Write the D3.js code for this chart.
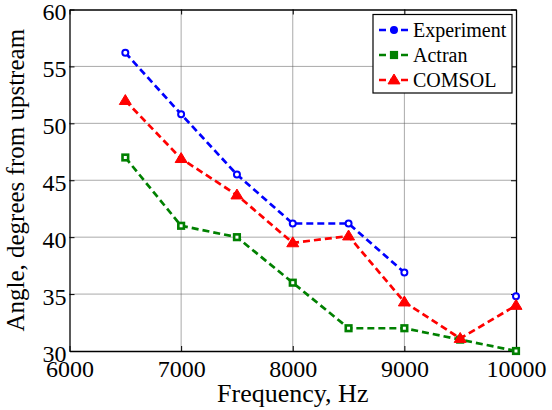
<!DOCTYPE html>
<html>
<head>
<meta charset="utf-8">
<script src="https://cdn.jsdelivr.net/npm/d3@7"></script>
<style>
  html, body { margin: 0; padding: 0; background: #fff; }
  svg { display: block; }
  text { font-family: "Liberation Serif", "Times New Roman", serif; fill: #000; }
</style>
</head>
<body>
<svg id="chart" width="552" height="410"></svg>
<script>
// Frequencies (Hz) at which the angle was evaluated
const frequencies = [6500, 7000, 7500, 8000, 8500, 9000, 9500, 10000];
// Angle from upstream, degrees (null = no measurement)
const experiment = [56.2, 50.8, 45.5, 41.2, 41.2, 36.9, null, 34.8];
const actran     = [47.0, 41.0, 40.0, 36.0, 32.0, 32.0, 31.0, 30.0];
const comsol     = [52.0, 46.9, 43.7, 39.5, 40.1, 34.3, 31.1, 34.0];

const xTicks = [6000, 7000, 8000, 9000, 10000];
const yTicks = [30, 35, 40, 45, 50, 55, 60];

const series = [
  { name: "Experiment", values: experiment, color: "#0000ff", marker: "circle" },
  { name: "Actran",     values: actran,     color: "#008000", marker: "square" },
  { name: "COMSOL",     values: comsol,     color: "#ff0000", marker: "triangle" }
];

const svg = d3.select("#chart");
const m = { left: 69.5, right: 516, top: 9.5, bottom: 351 };

const x = d3.scaleLinear().domain([6000, 10000]).range([m.left, m.right]);
const y = d3.scaleLinear().domain([30, 60]).range([m.bottom, m.top]);

// Dotted grid
const grid = svg.append("g");
grid.selectAll(".gx").data(xTicks.slice(1, -1)).join("line")
  .attr("x1", d => x(d)).attr("x2", d => x(d))
  .attr("y1", m.top).attr("y2", m.bottom)
  .attr("stroke", "#555").attr("stroke-width", 1).attr("stroke-dasharray", "1,1");
grid.selectAll(".gy").data(yTicks.slice(1, -1)).join("line")
  .attr("y1", d => y(d)).attr("y2", d => y(d))
  .attr("x1", m.left).attr("x2", m.right)
  .attr("stroke", "#555").attr("stroke-width", 1).attr("stroke-dasharray", "1,1");

// Axes with inward ticks on all four sides
const tickLen = 5;
const axFont = 24;
const xb = d3.axisBottom(x).tickValues(xTicks).tickSizeInner(-tickLen).tickSizeOuter(0).tickPadding(9).tickFormat(d3.format("d"));
const xt = d3.axisTop(x).tickValues(xTicks).tickSizeInner(-tickLen).tickSizeOuter(0).tickFormat("");
const yl = d3.axisLeft(y).tickValues(yTicks).tickSizeInner(-tickLen).tickSizeOuter(0).tickPadding(3).tickFormat(d3.format("d"));
const yr = d3.axisRight(y).tickValues(yTicks).tickSizeInner(-tickLen).tickSizeOuter(0).tickFormat("");

function styleAxis(g) {
  g.attr("font-family", null);
  g.select(".domain").attr("stroke", "#000").attr("stroke-width", 1.3);
  g.selectAll(".tick line").attr("stroke", "#000");
  g.selectAll("text").attr("font-size", axFont);
}
svg.append("g").attr("transform", `translate(0,${m.bottom})`).call(xb).call(styleAxis)
  .selectAll("text").attr("dy", "0.71em");
svg.append("g").attr("transform", `translate(0,${m.top})`).call(xt).call(styleAxis);
svg.append("g").attr("transform", `translate(${m.left},0)`).call(yl).call(styleAxis)
  .selectAll("text").attr("dy", "0.42em");
svg.append("g").attr("transform", `translate(${m.right},0)`).call(yr).call(styleAxis);

// Axis titles
svg.append("text").attr("x", (m.left + m.right) / 2).attr("y", 401.5)
  .attr("text-anchor", "middle").attr("font-size", 26).text("Frequency, Hz");
svg.append("text").attr("transform", `translate(24,${(m.top + m.bottom) / 2}) rotate(-90)`)
  .attr("text-anchor", "middle").attr("font-size", 25).text("Angle, degrees from upstream");

// Marker drawing
function drawMarker(g, type, color, cx, cy, filled) {
  if (type === "circle") {
    g.append("circle").attr("cx", cx).attr("cy", cy).attr("r", 3)
      .attr("fill", filled ? color : "#fff").attr("stroke", color).attr("stroke-width", 2);
  } else if (type === "square") {
    g.append("rect").attr("x", cx - 2.8).attr("y", cy - 2.8).attr("width", 5.6).attr("height", 5.6)
      .attr("fill", filled ? color : "#fff").attr("stroke", color).attr("stroke-width", 2.6);
  } else {
    const s = 6;
    g.append("path")
      .attr("d", `M${cx},${cy - s}L${cx + s},${cy + s * 0.65}L${cx - s},${cy + s * 0.65}Z`)
      .attr("fill", color).attr("stroke", color).attr("stroke-width", 1);
  }
}

const line = d3.line()
  .defined(d => d[1] !== null)
  .x(d => x(d[0])).y(d => y(d[1]));

const plot = svg.append("g");
series.forEach(s => {
  const pts = frequencies.map((f, i) => [f, s.values[i]]);
  plot.append("path").datum(pts).attr("d", line)
    .attr("fill", "none").attr("stroke", s.color).attr("stroke-width", 2.7)
    .attr("stroke-dasharray", "7,4");
  const mg = plot.append("g");
  pts.filter(p => p[1] !== null).forEach(p => drawMarker(mg, s.marker, s.color, x(p[0]), y(p[1]), false));
});

// Legend
const lg = svg.append("g");
const lx = 373, ly = 14.5, lw = 139, lh = 78.5;
lg.append("rect").attr("x", lx).attr("y", ly).attr("width", lw).attr("height", lh)
  .attr("fill", "#fff").attr("stroke", "#000").attr("stroke-width", 1.2);
series.forEach((s, i) => {
  const yy = ly + 15.5 + i * 25;
  lg.append("line").attr("x1", lx + 6).attr("x2", lx + 36).attr("y1", yy).attr("y2", yy)
    .attr("stroke", s.color).attr("stroke-width", 2.7).attr("stroke-dasharray", "7,4");
  drawMarker(lg.append("g"), s.marker, s.color, lx + 21, yy, true);
  lg.append("text").attr("x", lx + 40).attr("y", yy).attr("dy", "0.35em")
    .attr("font-size", 20).text(s.name);
});
</script>
</body>
</html>
